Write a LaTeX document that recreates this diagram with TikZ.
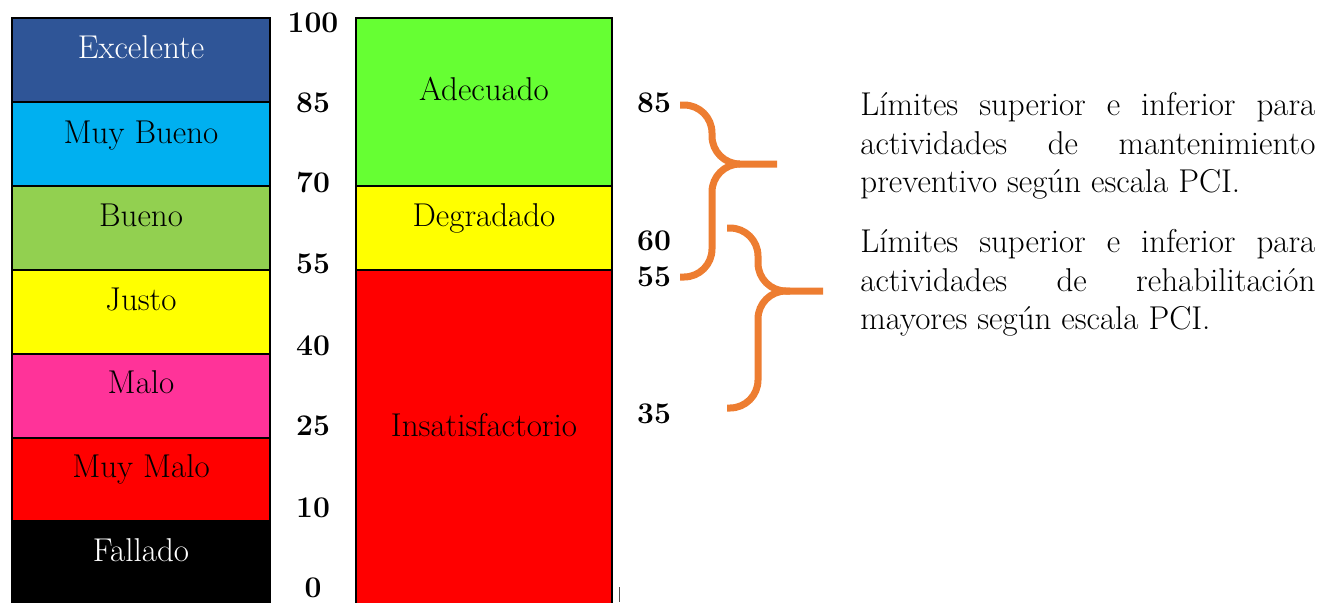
\documentclass[tikz,border=0pt]{standalone}
\usepackage{tikz}

\definecolor{excelente}{HTML}{2F5597}
\definecolor{muybueno}{HTML}{00B0F0}
\definecolor{bueno}{HTML}{92D050}
\definecolor{justo}{HTML}{FFFF00}
\definecolor{malo}{HTML}{FF3399}
\definecolor{muymalo}{HTML}{FF0000}
\definecolor{adecuado}{HTML}{66FF33}
\definecolor{llavenaranja}{HTML}{ED7D31}

\tikzset{
    celda/.style={draw=black, line width=1pt},
    etiqueta/.style={font=\fontsize{16.5}{19.25}\selectfont, anchor=base, inner sep=0pt},
    numero/.style={font=\fontsize{15}{19.25}\selectfont\bfseries, anchor=base, inner sep=0pt},
    llave/.style={draw=llavenaranja, line width=3.5pt, rounded corners=14pt},
    parrafo/.style={font=\fontsize{16.5}{19.25}\selectfont, text width=227.5pt, align=justify, inner sep=0pt, anchor=north west}
}

\begin{document}
\begin{tikzpicture}[x=0.5pt, y=-0.5pt]
        \useasboundingbox (0,0) rectangle (1318,602);
        \clip (0,0) rectangle (1318,602);

        % Escala PCI a la izquierda
        \draw[celda, fill=excelente] (12,18) rectangle (270,102);
        \draw[celda, fill=muybueno] (12,102) rectangle (270,186);
        \draw[celda, fill=bueno] (12,186) rectangle (270,270);
        \draw[celda, fill=justo] (12,270) rectangle (270,354);
        \draw[celda, fill=malo] (12,354) rectangle (270,438);
        \draw[celda, fill=muymalo] (12,438) rectangle (270,521);
        \draw[celda, fill=black] (12,521) rectangle (270,610);
        \node[etiqueta, white] (exc) at (141,58) {Excelente};
        \node[etiqueta] (mbu) at (141,143) {Muy Bueno};
        \node[etiqueta] (bue) at (141,226) {Bueno};
        \node[etiqueta] (jus) at (141,310) {Justo};
        \node[etiqueta] (mal) at (141,393) {Malo};
        \node[etiqueta] (mma) at (141,477) {Muy Malo};
        \node[etiqueta, white] (fal) at (141,561) {Fallado};

        % Valores de la escala
        \node[numero] (v100) at (313,32) {100};
        \node[numero] (v85) at (313,112) {85};
        \node[numero] (v70) at (313,192) {70};
        \node[numero] (v55) at (313,273) {55};
        \node[numero] (v40) at (313,355) {40};
        \node[numero] (v25) at (313,435) {25};
        \node[numero] (v10) at (313,517) {10};
        \node[numero] (v0) at (313,597) {0};

        % Estados del pavimento
        \draw[celda, fill=adecuado] (356,18) rectangle (612,186);
        \draw[celda, fill=justo] (356,186) rectangle (612,270);
        \draw[celda, fill=muymalo] (356,270) rectangle (612,610);
        \node[etiqueta] (ade) at (484,100) {Adecuado};
        \node[etiqueta] (deg) at (484,226) {Degradado};
        \node[etiqueta] (ins) at (484,436) {Insatisfactorio};
        \draw[line width=0.5pt, black!70] (619,587) -- (619,602);

        % Limites de cada actividad
        \node[numero] (l85) at (654,112) {85};
        \node[numero] (l60) at (654,250) {60};
        \node[numero] (l55) at (654,286) {55};
        \node[numero] (l35) at (654,423) {35};

        % Llave de mantenimiento preventivo
        \draw[llave] (680,105) -- (712,105) -- (712,164) -- (777,164);
        \draw[llave] (740,164) -- (712,164) -- (712,277) -- (680,277);

        % Llave de rehabilitacion
        \draw[llave] (727,228) -- (758,228) -- (758,291) -- (823,291);
        \draw[llave] (790,291) -- (758,291) -- (758,408) -- (727,408);

        % Textos explicativos
        \node[parrafo] (mant) at (860,92) {L\'imites superior e inferior para\linebreak actividades de mantenimiento\linebreak preventivo seg\'un escala PCI.};
        \node[parrafo] (rehab) at (860,229) {L\'imites superior e inferior para\linebreak actividades de rehabilitaci\'on\linebreak mayores seg\'un escala PCI.};
    \end{tikzpicture}
\end{document}
